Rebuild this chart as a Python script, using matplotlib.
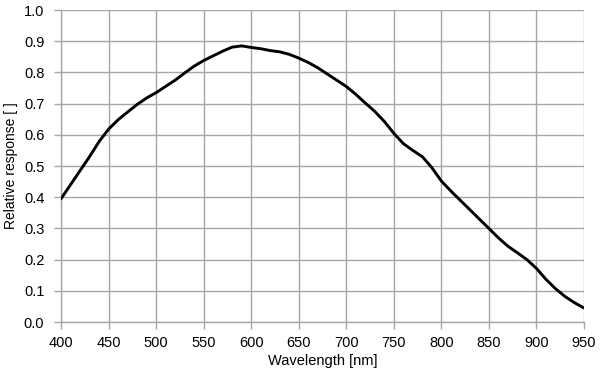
import matplotlib
matplotlib.use("Agg")
import matplotlib.pyplot as plt
import numpy as np

wavelength = [400, 410, 420, 430, 440, 450, 460, 470, 480, 490,
              500, 510, 520, 530, 540, 550, 560, 570, 580, 590,
              600, 610, 620, 630, 640, 650, 660, 670, 680, 690,
              700, 710, 720, 730, 740, 750, 760, 770, 780, 790,
              800, 810, 820, 830, 840, 850, 860, 870, 880, 890,
              900, 910, 920, 930, 940, 950]
response = [0.395, 0.44, 0.485, 0.53, 0.578, 0.618, 0.648, 0.673, 0.697, 0.718,
            0.735, 0.755, 0.775, 0.798, 0.82, 0.838, 0.853, 0.868, 0.881, 0.885,
            0.880, 0.876, 0.870, 0.866, 0.858, 0.846, 0.832, 0.815, 0.795, 0.775,
            0.755, 0.73, 0.702, 0.675, 0.643, 0.605, 0.572, 0.550, 0.530, 0.495,
            0.452, 0.42, 0.39, 0.36, 0.33, 0.30, 0.27, 0.243, 0.222, 0.200,
            0.172, 0.137, 0.107, 0.082, 0.062, 0.045]

x_ticks = np.arange(400, 951, 50)
y_ticks = np.arange(0, 1.01, 0.1)

plt.rcParams["font.family"] = ["Liberation Sans", "DejaVu Sans"]

fig = plt.figure(figsize=(6.07, 3.75), dpi=100)
ax = fig.add_axes([0.1005, 0.1413, 0.8615, 0.832])

grid_color = "#a6a6a6"
ax.plot(wavelength, response, color="black", lw=2.1, zorder=3,
        solid_joinstyle="round", solid_capstyle="round")

ax.set_xlim(400, 950)
ax.set_ylim(0, 1.0)
ax.set_xticks(x_ticks)
ax.set_yticks(y_ticks)
ax.set_yticklabels([f"{v:.1f}" for v in y_ticks])
ax.grid(True, color=grid_color, lw=1.0)
for side in ["top", "right"]:
    ax.spines[side].set_visible(False)
for side in ["left", "bottom"]:
    ax.spines[side].set_color(grid_color)
    ax.spines[side].set_linewidth(1.0)
ax.tick_params(colors=grid_color, labelcolor="black", length=5, width=1.0,
               labelsize=10.5)
ax.tick_params(axis="y", pad=7)
ax.tick_params(axis="x", pad=5)

ax.set_xlabel("Wavelength [nm]", fontsize=10.5, labelpad=3)
ax.set_ylabel("Relative response [ ]", fontsize=10, labelpad=4)

fig.savefig("out.png", dpi=100)
